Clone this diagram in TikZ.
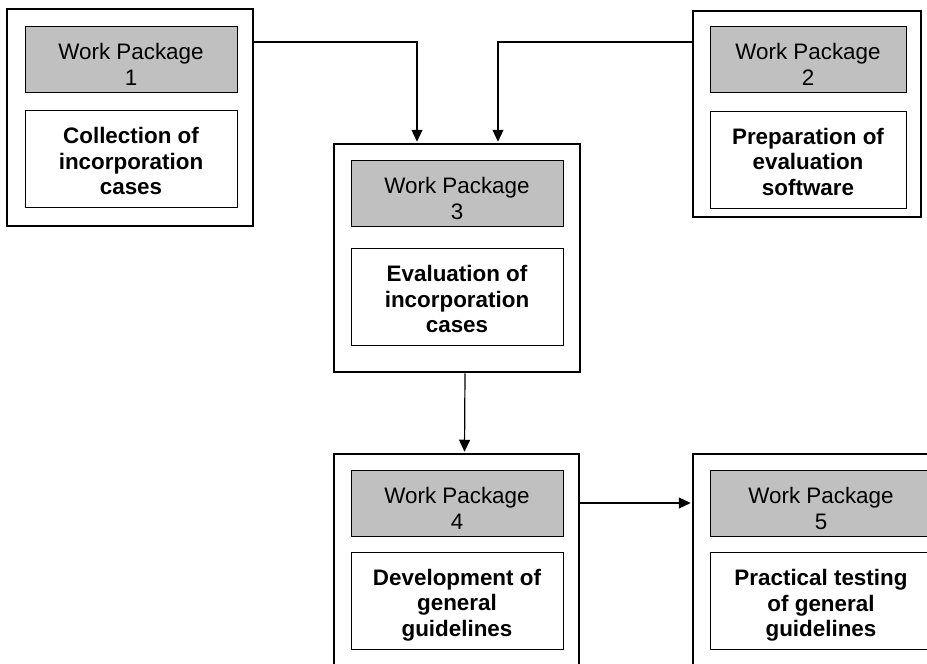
\documentclass[tikz,border=0pt]{standalone}
\usepackage{fontspec}
\setmainfont{Liberation Sans}
\usetikzlibrary{arrows.meta}
\definecolor{wpgray}{RGB}{192,192,192}
\newcommand{\wptop}[1]{\rule{0pt}{#1}}
\newcommand{\wpbot}{\rule[-6pt]{0pt}{6pt}}

\begin{document}
\begin{tikzpicture}[x=1pt,y=-1pt,
    wpbox/.style={draw, line width=2.5pt, inner sep=0pt},
    wphead/.style={draw, fill=wpgray, line width=1pt, align=center, inner sep=0pt,
      minimum width=212pt, minimum height=66pt, font=\fontsize{22.4}{26}\selectfont},
    wptext/.style={draw, fill=white, line width=1pt, align=center, inner sep=0pt,
      minimum width=212pt, minimum height=97pt, font=\fontsize{22.4}{25.5}\selectfont\bfseries},
    flow/.style={line width=1.2pt, -{Triangle[length=12pt,width=11pt]}, shorten >=1pt}]
  \useasboundingbox (0,0) rectangle (927,664);
  \clip (0,0) rectangle (927,664);

  \node[wpbox, minimum width=246pt, minimum height=217pt] (wp1) at (130,117.5) {};
  \node[wpbox, minimum width=228pt, minimum height=206pt] (wp2) at (807,114) {};
  \node[wpbox, minimum width=246pt, minimum height=228pt] (wp3) at (457,258) {};
  \node[wpbox, minimum width=245pt, minimum height=236pt] (wp4) at (456.5,572) {};
  \node[wpbox, minimum width=250pt, minimum height=236pt] (wp5) at (818,572) {};

  \node[wphead] (hd1) at (131,59) {\wptop{32pt}Work Package\\1\wpbot};
  \node[wphead, minimum width=196pt] (hd2) at (808,59) {\wptop{32pt}Work Package\\2\wpbot};
  \node[wphead] (hd3) at (457,193) {\wptop{32pt}Work Package\\3\wpbot};
  \node[wphead] (hd4) at (457,503) {\wptop{32pt}Work Package\\4\wpbot};
  \node[wphead, minimum width=222pt] (hd5) at (821,503) {\wptop{32pt}Work Package\\5\wpbot};

  \node[wptext] (tx1) at (131,159) {\wptop{26pt}Collection of\\incorporation\\cases\wpbot};
  \node[wptext, minimum width=196pt] (tx2) at (808,159.5) {\wptop{26pt}Preparation of\\evaluation\\software\wpbot};
  \node[wptext] (tx3) at (457,297) {\wptop{26pt}Evaluation of\\incorporation\\cases\wpbot};
  \node[wptext] (tx4) at (457,600.5) {\wptop{26pt}Development of\\general\\guidelines\wpbot};
  \node[wptext, minimum width=222pt] (tx5) at (821,601) {\wptop{26pt}Practical testing\\of general\\guidelines\wpbot};

  \coordinate (j1) at (417,42);
  \coordinate (j2) at (498,42);
  \draw[flow] (wp1.east |- j1) -- (j1) -- (j1 |- wp3.north);
  \draw[flow] (wp2.west |- j2) -- (j2) -- (j2 |- wp3.north);
  \draw[flow] ([xshift=8pt]wp3.south) -- ([xshift=8pt]wp4.north);
  \draw[flow] (wp4.east |- hd4) -- (wp5.west |- hd4);
\end{tikzpicture}
\end{document}
